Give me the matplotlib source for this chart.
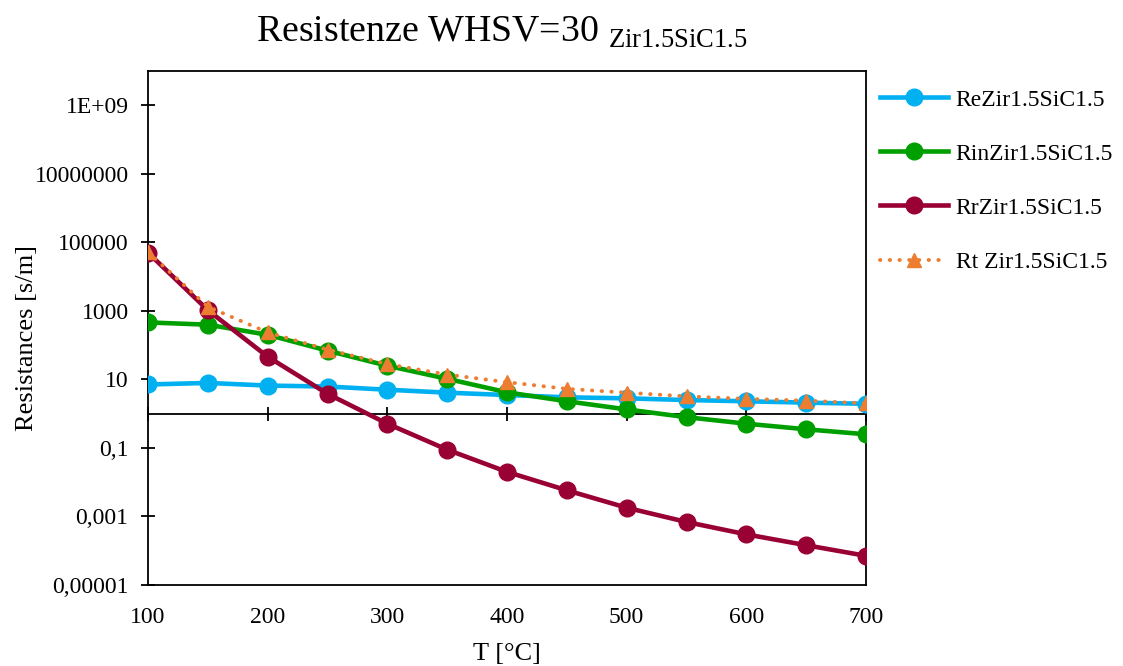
import matplotlib
matplotlib.use("Agg")
import matplotlib.pyplot as plt
from matplotlib.ticker import FixedLocator, FixedFormatter, NullLocator

# Dati
temperature = [100, 150, 200, 250, 300, 350, 400, 450, 500, 550, 600, 650, 700]
r_e = [7.1, 7.9, 6.6, 6.2, 5.0, 4.1, 3.5, 3.0, 2.8, 2.5, 2.3, 2.1, 1.94]
r_in = [460, 395, 200, 69, 25, 10.4, 4.2, 2.3, 1.33, 0.79, 0.51, 0.35, 0.25]
r_r = [50000, 1050, 46, 3.8, 0.51, 0.089, 0.020, 0.0058, 0.0018,
       0.00069, 0.00030, 0.000145, 0.000071]
r_t = [52000, 1320, 235, 74, 28, 13.8, 8.3, 5.3, 4.1, 3.2, 2.7, 2.4, 2.0]

series_labels = ["ReZir1.5SiC1.5", "RinZir1.5SiC1.5", "RrZir1.5SiC1.5", "Rt Zir1.5SiC1.5"]
x_ticks = [100, 200, 300, 400, 500, 600, 700]
y_ticks = [1e-5, 1e-3, 1e-1, 1e1, 1e3, 1e5, 1e7, 1e9]
y_tick_labels = ["0,00001", "0,001", "0,1", "10", "1000", "100000", "10000000", "1E+09"]

# Colori
C_RE = '#00B0F0'
C_IN = '#009F00'
C_R = '#990033'
C_T = '#ED7D31'

plt.rcParams['font.family'] = ['Liberation Serif', 'DejaVu Serif']
plt.rcParams['mathtext.fontset'] = 'custom'
plt.rcParams['mathtext.rm'] = 'Liberation Serif'

fig = plt.figure(figsize=(11.23, 6.66), dpi=100)
ax = fig.add_axes([148 / 1123, 1 - 585 / 666, (866 - 148) / 1123, (585 - 71) / 666])

ax.plot(temperature, r_e, color=C_RE, lw=3.3, marker='o', ms=12, label=series_labels[0], zorder=3)
ax.plot(temperature, r_in, color=C_IN, lw=3.3, marker='o', ms=12, label=series_labels[1], zorder=3)
ax.plot(temperature, r_r, color=C_R, lw=3.3, marker='o', ms=12, label=series_labels[2], zorder=3)
ax.plot(temperature, r_t, color=C_T, lw=2.8, ls=(0, (0.1, 2.4)), dash_capstyle='round',
        marker='^', ms=10.5, label=series_labels[3], zorder=4)

ax.set_yscale('log')
ax.set_ylim(1e-5, 1e10)
ax.set_xlim(100, 700)

ax.yaxis.set_major_locator(FixedLocator(y_ticks))
ax.yaxis.set_major_formatter(FixedFormatter(y_tick_labels))
ax.yaxis.set_minor_locator(NullLocator())
ax.tick_params(axis='y', direction='inout', length=10, width=1.3, labelsize=17, pad=9)

# etichette x in basso, segni di graduazione sulla linea y=1
ax.set_xticks(x_ticks)
ax.tick_params(axis='x', length=0, labelsize=17, pad=16)

sec = ax.secondary_xaxis(1 / 3)
sec.set_xticks(x_ticks)
sec.tick_params(axis='x', direction='inout', length=10, width=1.3, labelbottom=False,
                labeltop=False)
sec.spines['bottom'].set_linewidth(1.3)
sec.spines['top'].set_linewidth(1.3)

for s in ax.spines.values():
    s.set_linewidth(1.3)
    s.set_color('black')

ax.set_xlabel('T [°C]', fontsize=19, labelpad=11)
ax.set_ylabel('Resistances [s/m]', fontsize=19)
ax.yaxis.set_label_coords(-0.153, 0.48)

fig.text(0.447, 0.952, r'Resistenze WHSV=30 $_{\mathrm{Zir1.5SiC1.5}}$',
         ha='center', va='center', fontsize=27.3)

fig.legend(loc='upper left', bbox_to_anchor=(880 / 1123, 1 - 89 / 666),
           frameon=False, fontsize=17, handlelength=2.9, handletextpad=0.3,
           labelspacing=1.38, borderpad=0, borderaxespad=0)

plt.savefig('out.png', dpi=100, facecolor='white')
